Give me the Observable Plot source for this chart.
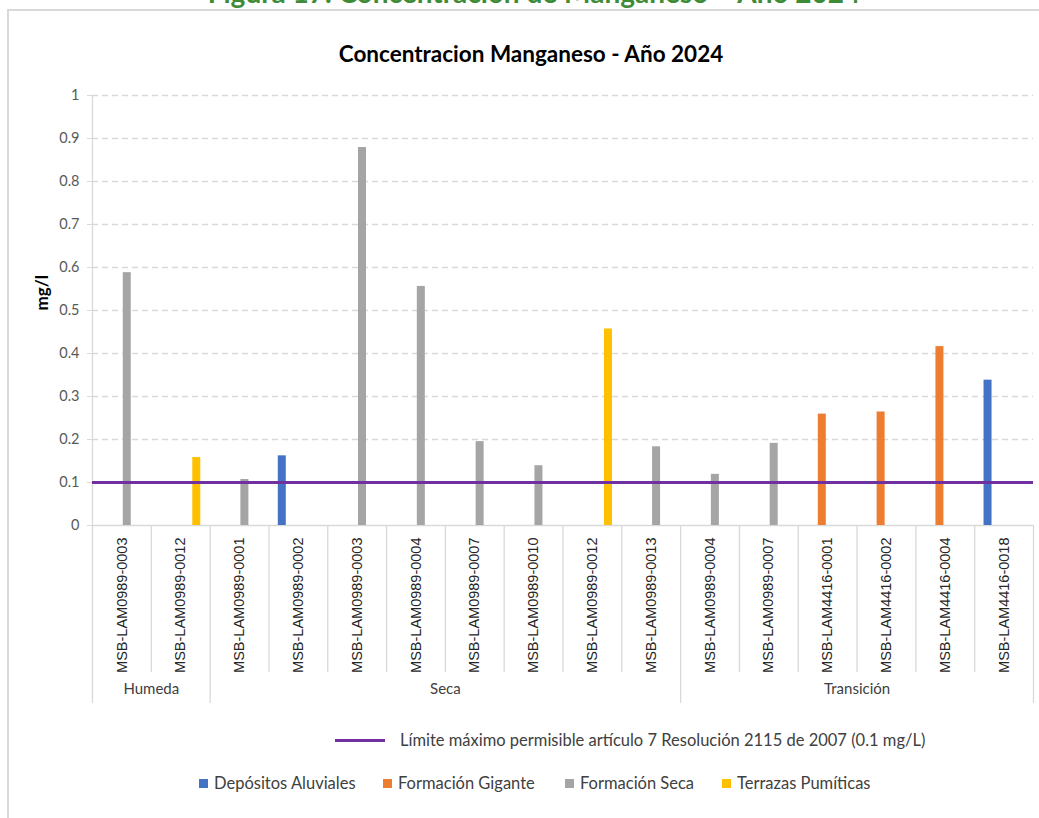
<!DOCTYPE html>
<html><head><meta charset="utf-8">
<script src="https://cdn.jsdelivr.net/npm/d3@7"></script>
<script src="https://cdn.jsdelivr.net/npm/@observablehq/plot@0.6"></script>
<style>
body{margin:0;background:#fff;overflow:hidden;}
#wrap{position:relative;width:1039px;height:818px;overflow:hidden;font-family:Lato,"Open Sans",sans-serif;}
#frame{position:absolute;left:7px;top:9px;width:1200px;height:1000px;border:2px solid #d9d9d9;box-sizing:border-box;}
#fig{position:absolute;left:0;width:1068px;top:-22px;text-align:center;font-weight:bold;font-size:28px;color:#3d8b37;line-height:1;white-space:nowrap;}
#title{position:absolute;left:0;width:1062px;top:40px;text-align:center;font-weight:bold;font-size:22.5px;color:#000;white-space:nowrap;line-height:1.2;}
#chart{position:absolute;left:0;top:0;}
.leg{position:absolute;font-size:16.5px;color:#404040;white-space:nowrap;display:flex;align-items:center;line-height:1.2;}
.sw{display:inline-block;width:9px;height:9px;margin-right:6px;}
.ln{display:inline-block;width:50px;height:3px;margin-right:15px;}
</style></head>
<body>
<div id="wrap">
  <div id="frame"></div>
  <div id="fig"></div>
  <div id="title"></div>
  <div id="chart"></div>
  <div id="legend"></div>
</div>
<script>
const figTitle = "Figura 17. Concentración de Manganeso – Año 2024";
const chartTitle = "Concentracion Manganeso - Año 2024";
const yLabel = "mg/l";
const groups = ["Humeda", "Seca", "Transición"];
const sites = ["MSB-LAM0989-0003","MSB-LAM0989-0012","MSB-LAM0989-0001","MSB-LAM0989-0002","MSB-LAM0989-0003","MSB-LAM0989-0004","MSB-LAM0989-0007","MSB-LAM0989-0010","MSB-LAM0989-0012","MSB-LAM0989-0013","MSB-LAM0989-0004","MSB-LAM0989-0007","MSB-LAM4416-0001","MSB-LAM4416-0002","MSB-LAM4416-0004","MSB-LAM4416-0018"];
const siteGroups = ["Humeda","Humeda","Seca","Seca","Seca","Seca","Seca","Seca","Seca","Seca","Transición","Transición","Transición","Transición","Transición","Transición"];
const series = ["Depósitos Aluviales", "Formación Gigante", "Formación Seca", "Terrazas Pumíticas"];
const siteSeries = ["Formación Seca","Terrazas Pumíticas","Formación Seca","Depósitos Aluviales","Formación Seca","Formación Seca","Formación Seca","Formación Seca","Terrazas Pumíticas","Formación Seca","Formación Seca","Formación Seca","Formación Gigante","Formación Gigante","Formación Gigante","Depósitos Aluviales"];
const values = [0.588, 0.158, 0.107, 0.162, 0.879, 0.556, 0.195, 0.139, 0.457, 0.183, 0.119, 0.191, 0.259, 0.264, 0.416, 0.338];
const colors = ["#4472c4", "#ed7d31", "#a5a5a5", "#ffc000"];
const limitValue = 0.1;
const limitLabel = "Límite máximo permisible artículo 7 Resolución 2115 de 2007 (0.1 mg/L)";
const limitColor = "#7030a0";
const yTicks = [0, 0.1, 0.2, 0.3, 0.4, 0.5, 0.6, 0.7, 0.8, 0.9, 1];

document.getElementById("fig").textContent = figTitle;
document.getElementById("title").textContent = chartTitle;

const W = 1039, H = 720, mL = 92, mR = 6, mT = 95, mB = 195;
const plotH = H - mT - mB;
const bw = (W - mL - mR) / sites.length;
const step = bw * 0.182, barW = 8;
const keys = sites.map((s, i) => siteGroups[i] + "|" + s);
const data = keys.map((k, i) => ({key: k, site: sites[i], group: siteGroups[i], series: siteSeries[i], value: values[i]}));

const groupStart = groups.map(g => siteGroups.indexOf(g));
const groupSize = groups.map(g => siteGroups.filter(x => x === g).length);
const groupCenters = groups.map((g, i) => ({group: g, key: keys[groupStart[i] + groupSize[i] / 2]}));
const catSepKeys = keys.filter((k, i) => i > 0 && !groupStart.includes(i));
const grpSepKeys = keys.filter((k, i) => i > 0 && groupStart.includes(i));
const sepColor = "#d9d9d9";

const chart = Plot.plot({
  width: W, height: H,
  marginLeft: mL, marginRight: mR, marginTop: mT, marginBottom: mB,
  style: {fontFamily: "Lato, 'Open Sans', sans-serif", background: "transparent"},
  x: {domain: keys, padding: 0, round: false, axis: null},
  y: {domain: [0, 1], axis: null},
  marks: [
    Plot.gridY(yTicks.slice(1), {stroke: "#d9d9d9", strokeOpacity: 1, strokeWidth: 1.3, strokeDasharray: "6,4"}),
    Plot.axisY(yTicks, {tickSize: 5, tickPadding: 8, tickFormat: d => String(d), stroke: "#d9d9d9", color: "#595959", fontSize: 14.5, label: null}),
    Plot.ruleY([0], {stroke: sepColor, strokeWidth: 1.3}),
    Plot.ruleX([keys[0]], {dx: -bw / 2, stroke: sepColor, strokeWidth: 1.3, insetBottom: -178}),
    Plot.ruleX(catSepKeys, {dx: -bw / 2, stroke: sepColor, strokeWidth: 1.3, insetTop: plotH, insetBottom: -147}),
    Plot.ruleX(grpSepKeys, {dx: -bw / 2, stroke: sepColor, strokeWidth: 1.3, insetTop: plotH, insetBottom: -178}),
    Plot.ruleX([keys[keys.length - 1]], {dx: bw / 2, stroke: sepColor, strokeWidth: 1.3, insetTop: plotH, insetBottom: -178}),
    ...series.map((s, i) => Plot.barY(data.filter(d => d.series === s), {
      x: "key", y: "value", fill: colors[i],
      dx: (i - 1.5) * step, insetLeft: (bw - barW) / 2, insetRight: (bw - barW) / 2
    })),
    Plot.ruleY([limitValue], {stroke: limitColor, strokeWidth: 3}),
    Plot.axisX({tickRotate: -90, tickSize: 0, tickPadding: 12, tickFormat: k => k.split("|")[1], fontFamily: "'Liberation Sans', Arial, sans-serif", fontSize: 14.5, color: "#262626", label: null}),
    Plot.text(groupCenters, {x: "key", text: "group", frameAnchor: "bottom", dx: -bw / 2, dy: 168, fontSize: 15, fill: "#404040"}),
    Plot.text([yLabel], {frameAnchor: "left", rotate: -90, dx: -50, fontWeight: "bold", fontSize: 17, fill: "#000"})
  ]
});
document.getElementById("chart").appendChild(chart);

const legend = document.getElementById("legend");
const row1 = document.createElement("div");
row1.className = "leg";
row1.style.left = "335px"; row1.style.top = "731px";
row1.innerHTML = `<span class="ln" style="background:${limitColor}"></span><span>${limitLabel}</span>`;
legend.appendChild(row1);
const lefts = [199, 383, 565, 722];
series.forEach((s, i) => {
  const d = document.createElement("div");
  d.className = "leg";
  d.style.left = lefts[i] + "px"; d.style.top = "774px";
  d.innerHTML = `<span class="sw" style="background:${colors[i]}"></span><span>${s}</span>`;
  legend.appendChild(d);
});
</script>
</body></html>
